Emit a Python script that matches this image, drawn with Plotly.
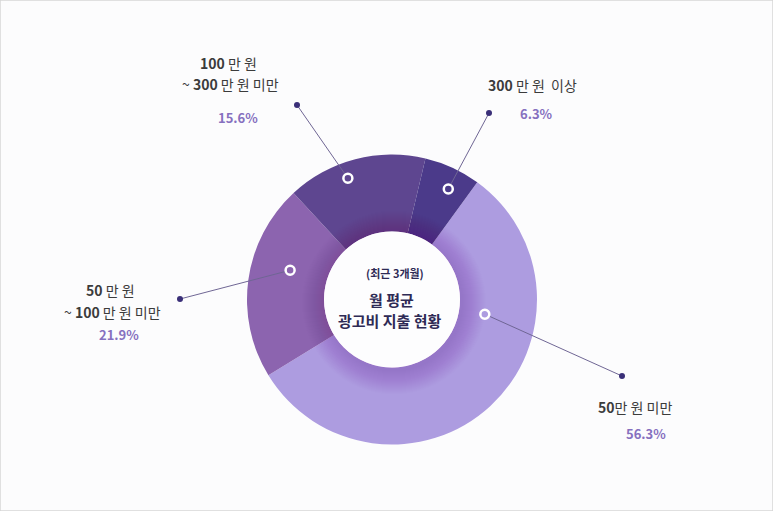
import math
import plotly.graph_objects as go

# ---- data ----
categories = ["50만 원 미만", "50 만 원 ~ 100 만 원 미만", "100 만 원 ~ 300 만 원 미만", "300 만 원 이상"]
values = [56.3, 21.9, 15.6, 6.3]
label_line1 = ["<b>50</b>만 원 미만", "<b>50</b> 만 원", "<b>100</b> 만 원", "<b>300</b> 만 원  이상"]
label_line2 = ["", "~ <b>100</b> 만 원 미만", "~ <b>300</b> 만 원 미만", ""]
center_title = ["(최근 3개월)", "월 평균", "광고비 지출 현황"]

# ---- layout / style constants ----
W, H = 773, 511
CX, CY, R = 392, 299.5, 145
HOLE_R = 68
colors = ["#AD9CE0", "#8C64AF", "#5E4690", "#4B3A8A"]
ring_angle = [99, 286, 340, 27]      # degrees clockwise from 12 o'clock
ring_radius = [94, 106, 129, 124]    # px from centre
dot_xy = [(622, 376), (180, 299), (297, 105), (489, 113)]
line1_xy = [(635, 407), (110, 290), (228, 63), (532, 85)]
line2_xy = [None, (112, 312), (230, 84), None]
pct_xy = [(646, 433), (119, 334), (238, 117), (536, 113)]
title_xy = [(395, 273), (391, 299), (390, 320)]
title_size = [11, 15, 15]
FONT = "Noto Sans CJK KR"

fig = go.Figure()

fig.add_trace(go.Pie(
    labels=categories, values=values, sort=False, direction="clockwise",
    rotation=36, hole=HOLE_R / R, textinfo="none", hoverinfo="label+percent",
    marker=dict(colors=colors, line=dict(width=0)),
    domain=dict(x=[(CX - R) / W, (CX + R) / W], y=[1 - (CY + R) / H, 1 - (CY - R) / H]),
    showlegend=False,
))
# invisible trace to keep the pixel-space cartesian axes
fig.add_trace(go.Scatter(x=[0, W], y=[0, H], mode="markers", marker=dict(opacity=0),
                         hoverinfo="skip", showlegend=False))

shapes = []
# soft shadow around the centre disc
for k in range(24, 0, -1):
    r = HOLE_R + k
    shapes.append(dict(type="circle", xref="x", yref="y", x0=CX - r + 2, x1=CX + r + 2,
                       y0=CY - r + 3, y1=CY + r + 3,
                       fillcolor="rgba(70,40,120,0.008)", line=dict(width=0), layer="above"))
shapes.append(dict(type="circle", xref="x", yref="y", x0=CX - HOLE_R, x1=CX + HOLE_R,
                   y0=CY - HOLE_R, y1=CY + HOLE_R, fillcolor="#FDFDFE",
                   line=dict(width=0), layer="above"))

# leader lines, rings and dots
for i in range(len(values)):
    a = math.radians(ring_angle[i])
    rx = CX + ring_radius[i] * math.sin(a)
    ry = CY - ring_radius[i] * math.cos(a)
    dx, dy = dot_xy[i]
    shapes.append(dict(type="line", xref="x", yref="y", x0=rx, y0=ry, x1=dx, y1=dy,
                       line=dict(color="#6F6694", width=1), layer="above"))
    shapes.append(dict(type="circle", xref="x", yref="y", x0=dx - 3, x1=dx + 3, y0=dy - 3, y1=dy + 3,
                       fillcolor="#3A2F78", line=dict(width=0), layer="above"))
    shapes.append(dict(type="circle", xref="x", yref="y", x0=rx - 4.5, x1=rx + 4.5, y0=ry - 4.5, y1=ry + 4.5,
                       fillcolor=colors[i], line=dict(color="white", width=2.5), layer="above"))

shapes.append(dict(type="rect", xref="paper", yref="paper", x0=0, x1=1, y0=0, y1=1,
                   line=dict(color="#D6D6D6", width=1.5), fillcolor="rgba(0,0,0,0)", layer="above"))

annotations = []
for i in range(len(values)):
    x, y = line1_xy[i]
    annotations.append(dict(x=x, y=y, xref="x", yref="y", text=label_line1[i], showarrow=False,
                            font=dict(family=FONT, size=14, color="#3B3B3B")))
    if line2_xy[i]:
        x, y = line2_xy[i]
        annotations.append(dict(x=x, y=y, xref="x", yref="y", text=label_line2[i], showarrow=False,
                                font=dict(family=FONT, size=14, color="#3B3B3B")))
    x, y = pct_xy[i]
    annotations.append(dict(x=x, y=y, xref="x", yref="y", text=f"<b>{values[i]}%</b>", showarrow=False,
                            font=dict(family=FONT, size=13, color="#8670BF")))

for t, (x, y), s in zip(center_title, title_xy, title_size):
    annotations.append(dict(x=x, y=y, xref="x", yref="y", text=f"<b>{t}</b>", showarrow=False,
                            font=dict(family=FONT, size=s, color="#2E2A55")))

fig.update_layout(
    width=W, height=H, margin=dict(l=0, r=0, t=0, b=0),
    paper_bgcolor="#FCFCFD", plot_bgcolor="rgba(0,0,0,0)",
    xaxis=dict(range=[0, W], visible=False, fixedrange=True),
    yaxis=dict(range=[H, 0], visible=False, fixedrange=True),
    shapes=shapes, annotations=annotations,
    font=dict(family=FONT),
)

fig.write_html("out.html", config={"displayModeBar": False},
               post_script="document.body.style.margin='0';document.body.style.overflow='hidden';")
